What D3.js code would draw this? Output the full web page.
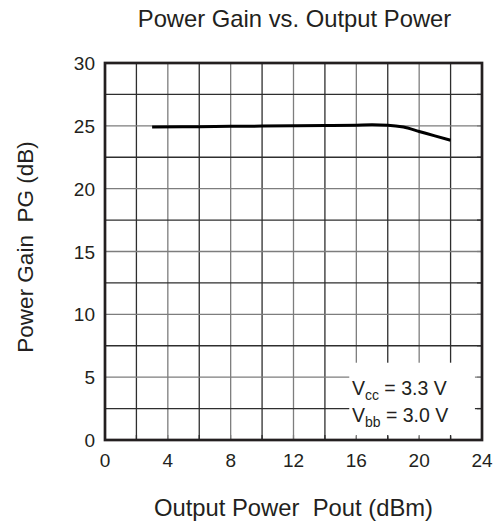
<!DOCTYPE html>
<html>
<head>
<meta charset="utf-8">
<script src="https://cdn.jsdelivr.net/npm/d3@7"></script>
<style>
  body { margin: 0; background: #fff; }
  text { font-family: Arial, "Liberation Sans", sans-serif; fill: #231f20; }
</style>
</head>
<body>
<svg width="500" height="527"></svg>
<script>
var pout = [3, 6, 8, 10, 12, 14, 16, 17, 18, 19, 20, 21, 22];
var gain = [24.9, 24.93, 24.96, 24.98, 25.0, 25.02, 25.05, 25.08, 25.05, 24.9, 24.55, 24.2, 23.85];
var xTicks = [0, 4, 8, 12, 16, 20, 24];
var yTicks = [0, 5, 10, 15, 20, 25, 30];

var svg = d3.select("svg"),
    margin = { left: 105, top: 63, right: 18, bottom: 87 },
    width = +svg.attr("width") - margin.left - margin.right,
    height = +svg.attr("height") - margin.top - margin.bottom;

var x = d3.scaleLinear().domain([0, 24]).range([0, width]);
var y = d3.scaleLinear().domain([0, 30]).range([height, 0]);

var g = svg.append("g").attr("transform", "translate(" + margin.left + "," + margin.top + ")");

function gridColor(isMajor) { return isMajor ? "#7d7d7d" : "#2e2e2e"; }

// grid
g.append("g").selectAll("line")
    .data(d3.range(2, 24, 2))
    .enter().append("line")
    .attr("x1", function(d) { return x(d); })
    .attr("x2", function(d) { return x(d); })
    .attr("y1", 0).attr("y2", height)
    .attr("stroke", function(d) { return gridColor(d % 4 === 0); })
    .attr("stroke-width", 1.3);

g.append("g").selectAll("line")
    .data(d3.range(2.5, 30, 2.5))
    .enter().append("line")
    .attr("y1", function(d) { return y(d); })
    .attr("y2", function(d) { return y(d); })
    .attr("x1", 0).attr("x2", width)
    .attr("stroke", function(d) { return gridColor(d % 5 === 0); })
    .attr("stroke-width", 1.3);

// legend box covering grid
g.append("rect")
    .attr("x", x(15.55)).attr("y", y(6.15))
    .attr("width", x(23.55) - x(15.55)).attr("height", y(0.3) - y(6.15))
    .attr("fill", "#fff");

// inward ticks on borders
var tickLen = 5;
g.append("g").selectAll("line")
    .data(d3.range(2, 24, 2))
    .enter().append("line")
    .attr("x1", function(d) { return x(d); })
    .attr("x2", function(d) { return x(d); })
    .attr("y1", height).attr("y2", height - tickLen)
    .attr("stroke", function(d) { return gridColor(d % 4 === 0); })
    .attr("stroke-width", 1.3);
g.append("g").selectAll("line")
    .data(d3.range(2.5, 30, 2.5))
    .enter().append("line")
    .attr("y1", function(d) { return y(d); })
    .attr("y2", function(d) { return y(d); })
    .attr("x1", width).attr("x2", width - tickLen)
    .attr("stroke", function(d) { return gridColor(d % 5 === 0); })
    .attr("stroke-width", 1.3);

// border
g.append("rect")
    .attr("x", 0).attr("y", 0)
    .attr("width", width).attr("height", height)
    .attr("fill", "none").attr("stroke", "#231f20").attr("stroke-width", 2.7);

// data line
var line = d3.line()
    .x(function(d, i) { return x(pout[i]); })
    .y(function(d) { return y(d); })
    .curve(d3.curveMonotoneX);

g.append("path")
    .datum(gain)
    .attr("d", line)
    .attr("fill", "none")
    .attr("stroke", "#000")
    .attr("stroke-width", 3);

// tick labels
g.append("g").selectAll("text")
    .data(xTicks)
    .enter().append("text")
    .attr("x", function(d) { return x(d); })
    .attr("y", height + 27)
    .attr("text-anchor", "middle")
    .attr("font-size", 19)
    .text(function(d) { return d; });

g.append("g").selectAll("text")
    .data(yTicks)
    .enter().append("text")
    .attr("x", -10)
    .attr("y", function(d) { return y(d) + 7; })
    .attr("text-anchor", "end")
    .attr("font-size", 19)
    .text(function(d) { return d; });

// legend text
var leg = g.append("text").attr("x", x(15.72)).attr("y", y(3.55)).attr("font-size", 19.5);
leg.append("tspan").text("V");
leg.append("tspan").attr("dy", 5).attr("font-size", 14).text("cc");
leg.append("tspan").attr("dy", -5).text(" = 3.3 V");

var leg2 = g.append("text").attr("x", x(15.72)).attr("y", y(1.4)).attr("font-size", 19.5);
leg2.append("tspan").text("V");
leg2.append("tspan").attr("dy", 5).attr("font-size", 14).text("bb");
leg2.append("tspan").attr("dy", -5).text(" = 3.0 V");

// titles
svg.append("text")
    .attr("x", 294.5).attr("y", 27)
    .attr("text-anchor", "middle")
    .attr("font-size", 23.8)
    .text("Power Gain vs. Output Power");

svg.append("text")
    .attr("x", 293.5).attr("y", 516)
    .attr("text-anchor", "middle")
    .attr("font-size", 23.8)
    .style("white-space", "pre")
    .text("Output Power  Pout (dBm)");

svg.append("text")
    .attr("transform", "translate(33,247) rotate(-90)")
    .attr("text-anchor", "middle")
    .attr("font-size", 22.5)
    .style("white-space", "pre")
    .text("Power Gain  PG (dB)");
</script>
</body>
</html>
